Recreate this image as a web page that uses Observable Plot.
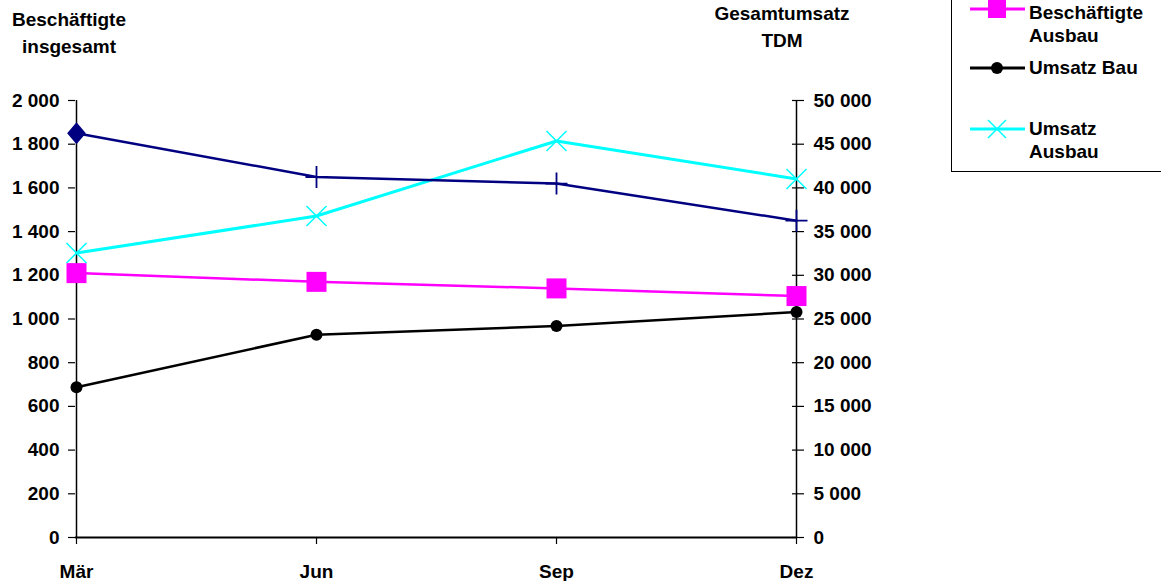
<!DOCTYPE html>
<html>
<head>
<meta charset="utf-8">
<script src="https://cdn.jsdelivr.net/npm/d3@7"></script>
<script src="https://cdn.jsdelivr.net/npm/@observablehq/plot@0.6"></script>
<style>
  html, body { margin: 0; padding: 0; background: #fff; }
  #wrap { position: relative; width: 1161px; height: 581px; overflow: hidden;
          font-family: "Liberation Sans", Arial, sans-serif; font-weight: bold; color: #000; }
  .title { position: absolute; font-size: 19px; line-height: 27px; text-align: center; white-space: nowrap; }
  #legend { position: absolute; left: 951px; top: -60px; width: 260px; height: 232px;
            border: 1.5px solid #000; box-sizing: border-box; background: #fff; }
  .lg { position: absolute; font-size: 19px; line-height: 23px; white-space: nowrap; }
  .lgsym { position: absolute; }
</style>
</head>
<body>
<div id="wrap"></div>
<script>
// ---- data ----
const months = ["Mär", "Jun", "Sep", "Dez"];
const beschaeftigteBau = [1850, 1650, 1620, 1450];
const beschaeftigteAusbau = [1210, 1170, 1140, 1105];
const umsatzBau = [17200, 23200, 24200, 25800];
const umsatzAusbau = [32550, 36780, 45370, 41020];
const leftTicks = [0, 200, 400, 600, 800, 1000, 1200, 1400, 1600, 1800, 2000];
const rightTicks = [0, 5000, 10000, 15000, 20000, 25000, 30000, 35000, 40000, 45000, 50000];
const leftTitle = ["Beschäftigte", "insgesamt"];
const rightTitle = ["Gesamtumsatz", "TDM"];
const legendLabels = [["Beschäftigte", "Ausbau"], ["Umsatz Bau"], ["Umsatz", "Ausbau"]];

const leftMax = 2000, rightMax = 50000;
const k = leftMax / rightMax; // revenue -> left scale
const fmt = d3.formatLocale({thousands: " ", grouping: [3], decimal: ","}).format(",");

const rows = (vals, scale = 1) => months.map((m, i) => ({m, v: vals[i] * scale}));

// ---- custom symbols (size = pi r^2) ----
const rad = s => Math.sqrt(s / Math.PI);
const diamond = {draw(c, s) { const r = rad(s); c.moveTo(0, -r); c.lineTo(r * 0.85, 0); c.lineTo(0, r); c.lineTo(-r * 0.85, 0); c.closePath(); }};
const plus = {draw(c, s) { const r = rad(s); c.moveTo(0, -r); c.lineTo(0, r); c.moveTo(-r, 0); c.lineTo(r, 0); }};
const square = {draw(c, s) { const r = rad(s); c.rect(-r, -r, 2 * r, 2 * r); }};
const times = {draw(c, s) { const r = rad(s); c.moveTo(-r, -r); c.lineTo(r, r); c.moveTo(-r, r); c.lineTo(r, -r); }};

const navy = "#000080", magenta = "#ff00ff", cyan = "#00ffff", black = "#000";

const dBau = rows(beschaeftigteBau);
const dAusbau = rows(beschaeftigteAusbau);
const uBau = rows(umsatzBau, k);
const uAusbau = rows(umsatzAusbau, k);

const chart = Plot.plot({
  width: 1161,
  height: 581,
  marginLeft: 75,
  marginRight: 364,
  marginTop: 100,
  marginBottom: 44,
  style: {fontFamily: "Liberation Sans, Arial, sans-serif", fontWeight: "bold", fontSize: "19px", color: "#000", background: "transparent", overflow: "visible"},
  x: {type: "point", domain: months, padding: 0},
  y: {domain: [0, leftMax]},
  marks: [
    // axes
    Plot.axisX({tickSize: 7, tickPadding: 20, label: null, stroke: black, strokeWidth: 1.2}),
    Plot.axisY(leftTicks, {anchor: "left", tickSize: 7, tickPadding: 9, tickFormat: fmt, label: null, strokeWidth: 1.2}),
    Plot.axisY(rightTicks.map(v => v * k), {anchor: "right", tickSize: 12, dx: -6, tickFormat: () => "", label: null, strokeWidth: 1.2}),
    Plot.axisY(rightTicks.map(v => v * k), {anchor: "right", tickSize: 0, tickPadding: 16, tickFormat: d => fmt(Math.round(d / k)), label: null}),
    Plot.ruleX([months[0], months[months.length - 1]], {stroke: black, strokeWidth: 1.5}),
    Plot.ruleY([0], {stroke: black, strokeWidth: 2}),
    // series
    Plot.line(dAusbau, {x: "m", y: "v", stroke: magenta, strokeWidth: 2.5}),
    Plot.line(uBau, {x: "m", y: "v", stroke: black, strokeWidth: 2.5}),
    Plot.line(uAusbau, {x: "m", y: "v", stroke: cyan, strokeWidth: 3}),
    Plot.line(dBau, {x: "m", y: "v", stroke: navy, strokeWidth: 2.5}),
    Plot.dot(dAusbau, {x: "m", y: "v", symbol: square, r: 10, fill: magenta, stroke: null}),
    Plot.dot(uBau, {x: "m", y: "v", r: 6, fill: black, stroke: null}),
    Plot.dot(uAusbau, {x: "m", y: "v", symbol: times, r: 10, stroke: cyan, strokeWidth: 1.5, fill: "none"}),
    Plot.dot(dBau.slice(0, 1), {x: "m", y: "v", symbol: diamond, r: 11, fill: navy, stroke: null}),
    Plot.dot(dBau.slice(1), {x: "m", y: "v", symbol: plus, r: 11, stroke: navy, strokeWidth: 1.8, fill: "none"})
  ]
});

const wrap = document.getElementById("wrap");
wrap.appendChild(chart);

// ---- titles ----
function addTitle(lines, cx, top) {
  const d = document.createElement("div");
  d.className = "title";
  d.innerHTML = lines.join("<br>");
  d.style.top = top + "px";
  d.style.left = (cx - 100) + "px";
  d.style.width = "200px";
  wrap.appendChild(d);
}
addTitle(leftTitle, 69, 6);
addTitle(rightTitle, 782, 0);

// ---- legend ----
const legend = document.createElement("div");
legend.id = "legend";
wrap.appendChild(legend);
const legendItems = [
  {color: magenta, sym: `<rect x="18" y="0" width="18" height="18" fill="${magenta}"/>`, lineY: 8, textTop: 0},
  {color: black, sym: `<circle cx="27" cy="9" r="6" fill="${black}"/>`, lineY: 67, textTop: 55},
  {color: cyan, sym: `<path d="M18 0 L36 18 M18 18 L36 0" stroke="${cyan}" stroke-width="1.5"/>`, lineY: 128, textTop: 116}
];
legendItems.forEach((it, i) => {
  const s = document.createElement("div");
  s.className = "lgsym";
  s.style.left = (969 - 951) + "px";
  s.style.top = (it.lineY + 60 - 9) + "px";
  s.innerHTML = `<svg width="56" height="18" style="display:block;overflow:visible"><line x1="0" x2="55" y1="9" y2="9" stroke="${it.color}" stroke-width="3"/>${it.sym}</svg>`;
  legend.appendChild(s);
  const t = document.createElement("div");
  t.className = "lg";
  t.style.left = (1028 - 951) + "px";
  t.style.top = (it.textTop + 60) + "px";
  t.innerHTML = legendLabels[i].join("<br>");
  legend.appendChild(t);
});
</script>
</body>
</html>
